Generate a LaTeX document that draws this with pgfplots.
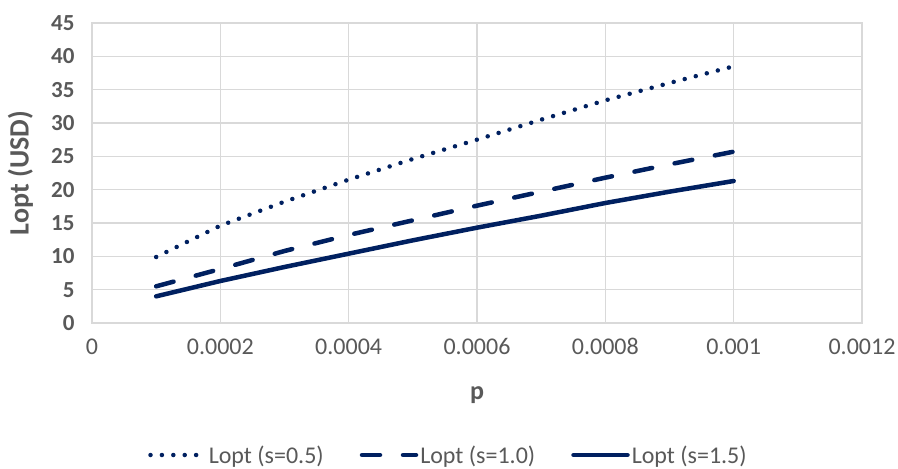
\documentclass[border=0pt]{standalone}
\usepackage{pgfplots}
\pgfplotsset{compat=1.18}
\usepackage{fontspec}
\setmainfont{Carlito}
\definecolor{navy}{HTML}{002060}
\definecolor{gridc}{HTML}{D9D9D9}
\definecolor{txt}{HTML}{595959}
\begin{document}
\begin{tikzpicture}
\begin{axis}[
  scale only axis,
  width=770pt, height=300pt,
  xmin=0, xmax=0.0012, ymin=0, ymax=45,
  xtick={0,0.0002,0.0004,0.0006,0.0008,0.001,0.0012},
  xticklabels={0,0.0002,0.0004,0.0006,0.0008,0.001,0.0012},
  ytick={0,5,...,45},
  grid=major,
  major grid style={gridc, line width=1.3pt},
  axis line style={gridc, line width=1.3pt},
  tick style={draw=none},
  scaled x ticks=false,
  /pgf/number format/assume math mode=true,
  xticklabel style={font=\fontsize{24}{26}\selectfont, text=txt, yshift=-12pt},
  yticklabel style={font=\bfseries\fontsize{23}{26}\selectfont, text=txt, xshift=-14pt},
  xlabel={p},
  ylabel={Lopt (USD)},
  xlabel style={font=\bfseries\fontsize{26}{28}\selectfont, text=txt, at={(axis description cs:0.5,-0.24)}, anchor=center},
  ylabel style={font=\bfseries\fontsize{28}{30}\selectfont, text=txt, at={(axis description cs:-0.093,0.5)}, anchor=center},
  legend columns=3,
  legend style={draw=none, fill=none, at={(0.463,-0.44)}, anchor=center,
    font=\fontsize{24}{26}\selectfont, text=txt,
    nodes={inner sep=2pt},
    /tikz/every even column/.append style={column sep=34pt}},
  legend image code/.code={\draw[#1] (0pt,0pt) -- (54pt,0pt);},
]
\addplot[navy, line width=4.5pt, line cap=round, dash pattern=on 0pt off 11.4pt] coordinates {
(0.0001,9.9) (0.0002,14.6) (0.0003,18.2) (0.0004,21.5) (0.0005,24.6) (0.0006,27.5) (0.0007,30.5) (0.0008,33.4) (0.0009,36.0) (0.001,38.5)};
\addlegendentry{Lopt (s=0.5)}
\addplot[navy, line width=4.5pt, line cap=round, dash pattern=on 18pt off 23pt] coordinates {
(0.0001,5.5) (0.0002,8.1) (0.0003,10.8) (0.0004,13.2) (0.0005,15.4) (0.0006,17.6) (0.0007,19.7) (0.0008,21.8) (0.0009,23.8) (0.001,25.7)};
\addlegendentry{Lopt (s=1.0)}
\addplot[navy, line width=4.5pt, line cap=round] coordinates {
(0.0001,4.0) (0.0002,6.3) (0.0003,8.4) (0.0004,10.4) (0.0005,12.4) (0.0006,14.3) (0.0007,16.1) (0.0008,18.0) (0.0009,19.7) (0.001,21.3)};
\addlegendentry{Lopt (s=1.5)}
\end{axis}
\pgfresetboundingbox
\path[use as bounding box] (current axis.south west) ++(-92pt,-146pt) rectangle ++(898pt,469pt);
\end{tikzpicture}
\end{document}
